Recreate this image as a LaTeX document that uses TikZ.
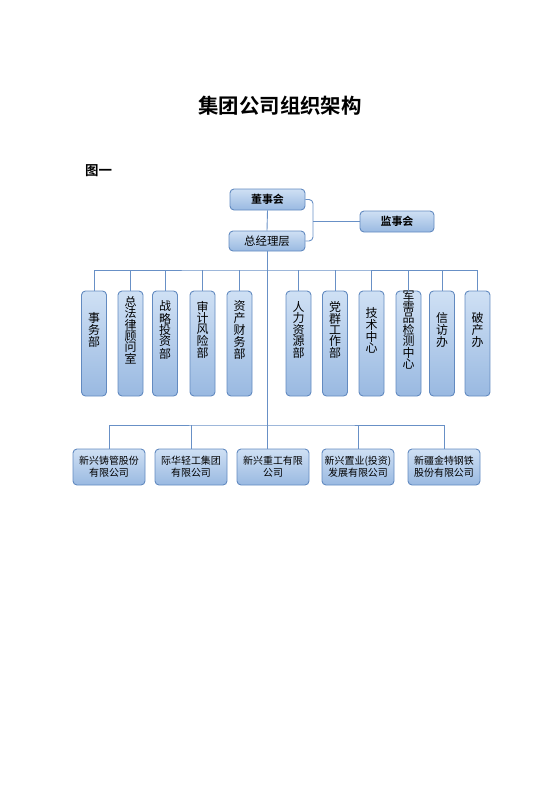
\documentclass[tikz,border=0pt]{standalone}
\usepackage{fontspec}
\setmainfont{Noto Sans CJK SC}[BoldFont={Noto Sans CJK SC Bold}]
\usepackage{tikz}
\definecolor{boxtop}{RGB}{207,224,244}
\definecolor{boxbot}{RGB}{153,185,225}
\definecolor{boxline}{RGB}{98,138,192}
\definecolor{wire}{RGB}{104,144,198}
\tikzstyle{unit}=[draw=boxline,rounded corners=4bp,top color=boxtop,bottom color=boxbot,line width=0.9bp,inner sep=0pt]
\tikzstyle{head}=[unit,minimum width=75bp,minimum height=21bp,font=\bfseries\fontsize{11}{13}\selectfont]
\tikzstyle{dept}=[unit,minimum width=25bp,minimum height=105bp]
\tikzstyle{firm}=[unit,minimum width=72bp,minimum height=36bp,align=center,font=\fontsize{10}{12}\selectfont]
\newcommand{\vtext}[1]{\parbox[c][95bp][c]{16bp}{\centering\fontsize{12}{11}\selectfont #1\par\vspace{27bp}}}

\begin{document}
\begin{tikzpicture}[x=1bp,y=-1bp,auto]
\tikzstyle{link}=[draw=wire,line width=0.9bp]
\useasboundingbox (0,0) rectangle (560,792);
  \node[font=\bfseries\fontsize{20.5}{24}\selectfont] (title) at (280,106) {集团公司组织架构};
  \node[font=\bfseries\fontsize{13.5}{16}\selectfont] (fig) at (98.5,171) {图一};
  % top level
  \node[head] (board) at (267.5,199.5) {董事会};
  \node[head,minimum width=76bp,minimum height=20bp,font=\fontsize{11.5}{13}\selectfont] (gm) at (267,241) {总经理层};
  \node[head,minimum width=74bp] (sup) at (397,221.5) {监事会};
  % departments
  \foreach \place/\name/\words in {{(94,343.5)/d1/{事\\务\\部}},
                                   {(130.5,343.5)/d2/{总\\法\\律\\顾\\问\\室}},
                                   {(165,343.5)/d3/{战\\略\\投\\资\\部}},
                                   {(202.5,343.5)/d4/{审\\计\\风\\险\\部}},
                                   {(239.5,343.5)/d5/{资\\产\\财\\务\\部}},
                                   {(298.5,343.5)/d6/{人\\力\\资\\源\\部}},
                                   {(335,343.5)/d7/{党\\群\\工\\作\\部}},
                                   {(371.5,343.5)/d8/{技\\术\\中\\心}},
                                   {(408.5,343.5)/d9/{军\\需\\品\\检\\测\\中\\心}},
                                   {(442,343.5)/d10/{信\\访\\办}},
                                   {(477.5,343.5)/d11/{破\\产\\办}}}
    \node[dept] (\name) at \place {\vtext{\words}};
  % companies
  \foreach \place/\name/\words in {{(109,467)/f1/{新兴铸管股份\\有限公司}},
                                   {(191,467)/f2/{际华轻工集团\\有限公司}},
                                   {(273,467)/f3/{新兴重工有限\\公司}},
                                   {(358,467)/f4/{新兴置业(投资)\\发展有限公司}},
                                   {(444,467)/f5/{新疆金特钢铁\\股份有限公司}}}
    \node[firm] (\name) at \place {\words};
  % connectors
  \coordinate (bk) at (313,221.5);
  \coordinate (ubus) at (267,270);
  \coordinate (lbus) at (267,425);
  \draw[link] (board.south) -- (gm.north);
  \draw[link,rounded corners=4bp] (board.east) -| (bk) |- (gm.east);
  \draw[link] (bk) -- (sup.west);
  \draw[link] (gm.south) -- (gm.south |- f3.north);
  \draw[link] (d1.north) |- (ubus) -| (d11.north);
  \foreach \name in {d2,d3,d4,d5,d6,d7,d8,d9,d10}
    \draw[link] (ubus -| \name.north) -- (\name.north);
  \draw[link] (f1.north) |- (lbus) -| (f5.north);
  \foreach \name in {f2,f4}
    \draw[link] (lbus -| \name.north) -- (\name.north);
\end{tikzpicture}
\end{document}
